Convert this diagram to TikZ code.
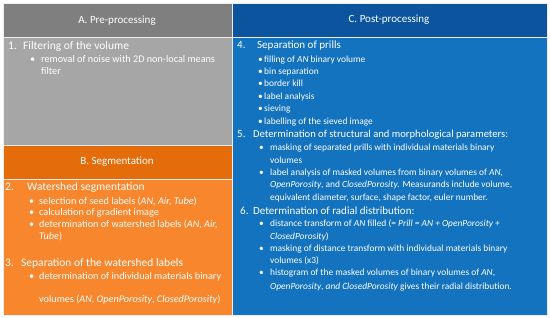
\documentclass[tikz,border=0pt]{standalone}
\usepackage{fontspec}
\setmainfont{Carlito}
\usepackage{xcolor}
\usetikzlibrary{positioning}

\definecolor{grayhead}{HTML}{7F7F7F}
\definecolor{graybody}{HTML}{A6A6A6}
\definecolor{orghead}{HTML}{E46C0A}
\definecolor{orgbody}{HTML}{F7862D}
\definecolor{bluehead}{HTML}{0C559E}
\definecolor{bluebody}{HTML}{1473BE}

\tikzset{
  panel/.style={draw=white!85!gray,line width=0.8pt},
  hdr/.style={text=white,font=\fontsize{11}{13}\selectfont,inner sep=0pt},
  itm/.style={text=white,font=\fontsize{11.5}{13}\selectfont,inner sep=0pt,anchor=base west},
  blt/.style={text=white,font=\fontsize{10.2}{12}\selectfont,inner sep=0pt,anchor=base west},
  itmr/.style={itm,font=\fontsize{11}{13}\selectfont},
  bltr/.style={blt,font=\fontsize{9.4}{11}\selectfont}
}

\begin{document}
\begin{tikzpicture}[x=1pt,y=-1pt]
\useasboundingbox (0,0) rectangle (550,318);
\fill[white] (0,0) rectangle (550,318);
% panels
\filldraw[panel,fill=grayhead] (3,3) rectangle (232,37);
\filldraw[panel,fill=graybody] (3,37) rectangle (232,145);
\filldraw[panel,fill=orghead] (3,145) rectangle (232,179);
\filldraw[panel,fill=orgbody] (3,179) rectangle (232,315);
\filldraw[panel,fill=bluehead] (232,3) rectangle (547,37);
\filldraw[panel,fill=bluebody] (232,37) rectangle (547,315);

% A. Pre-processing
\node[hdr] (ha) at (117,21) {A. Pre-processing};
\node[itm] (n1) at (8,50) {1.};
\node[itm] (t1) at (23,50) {Filtering of the volume};
\node[blt] (d1a) at (30,63) {\textbullet};
\node[blt] (t1a) at (41,63) {removal of noise with 2D non-local means};
\node[blt] (t1b) at (41,75) {filter};

% B. Segmentation
\node[hdr] (hb) at (117,162) {B. Segmentation};
\node[itm] (n2) at (5,191) {2.};
\node[itm] (t2) at (27,191) {Watershed segmentation};
\node[blt] (d2a) at (29,205) {\textbullet};
\node[blt] (t2a) at (39,205) {selection of seed labels (\textit{AN, Air, Tube})};
\node[blt] (d2b) at (29,216) {\textbullet};
\node[blt] (t2b) at (39,216) {calculation of gradient image};
\node[blt] (d2c) at (29,228) {\textbullet};
\node[blt] (t2c) at (39,228) {determination of watershed labels (\textit{AN, Air,}};
\node[blt] (t2d) at (39,240) {\textit{Tube})};
\node[itm] (n3) at (5,267) {3.};
\node[itm] (t3) at (21,267) {Separation of the watershed labels};
\node[blt] (d3a) at (29,280) {\textbullet};
\node[blt] (t3a) at (39,280) {determination of individual materials binary};
\node[blt] (t3b) at (39,303) {volumes (\textit{AN}, \textit{OpenPorosity}, \textit{ClosedPorosity})};

% C. Post-processing
\node[hdr] (hc) at (389,20) {C. Post-processing};
\node[itmr] (n4) at (237,49) {4.};
\node[itmr] (t4) at (257,49) {Separation of prills};
\foreach \yy/\tx [count=\i] in {63/{filling of \textit{AN} binary volume},75/bin separation,
    87/border kill,100/label analysis,112/sieving,125/labelling of the sieved image}{
  \node[bltr] (d4\i) at (258,\yy) {\textbullet};
  \node[bltr] (t4\i) at (264,\yy) {\tx};
}
\node[itmr] (n5) at (237,138) {5.};
\node[itmr,font=\fontsize{10.6}{13}\selectfont] (t5) at (253,138) {Determination of structural and morphological parameters:};
\node[bltr] (d5a) at (259,151) {\textbullet};
\node[bltr] (t5a) at (270,151) {masking of separated prills with individual materials binary};
\node[bltr] (t5b) at (270,164) {volumes};
\node[bltr] (d5c) at (259,176) {\textbullet};
\node[bltr] (t5c) at (270,176) {label analysis of masked volumes from binary volumes of \textit{AN},};
\node[bltr] (t5d) at (270,188) {\textit{OpenPorosity}, and \textit{ClosedPorosity.} Measurands include volume,};
\node[bltr] (t5e) at (270,201) {equivalent diameter, surface, shape factor, euler number.};
\node[itmr] (n6) at (240,215) {6.};
\node[itmr] (t6) at (253,215) {Determination of radial distribution:};
\node[bltr] (d6a) at (259,227) {\textbullet};
\node[bltr] (t6a) at (270,227) {distance transform of \textit{AN} filled (= \textit{Prill = AN + OpenPorosity +}};
\node[bltr] (t6b) at (270,240) {\textit{ClosedPorosity})};
\node[bltr] (d6c) at (259,252) {\textbullet};
\node[bltr] (t6c) at (270,252) {masking of distance transform with individual materials binary};
\node[bltr] (t6d) at (270,264) {volumes (x3)};
\node[bltr] (d6e) at (259,276) {\textbullet};
\node[bltr] (t6e) at (270,276) {histogram of the masked volumes of binary volumes of \textit{AN},};
\node[bltr] (t6f) at (270,290) {\textit{OpenPorosity}, \textit{and ClosedPorosity} gives their radial distribution.};
\end{tikzpicture}
\end{document}
